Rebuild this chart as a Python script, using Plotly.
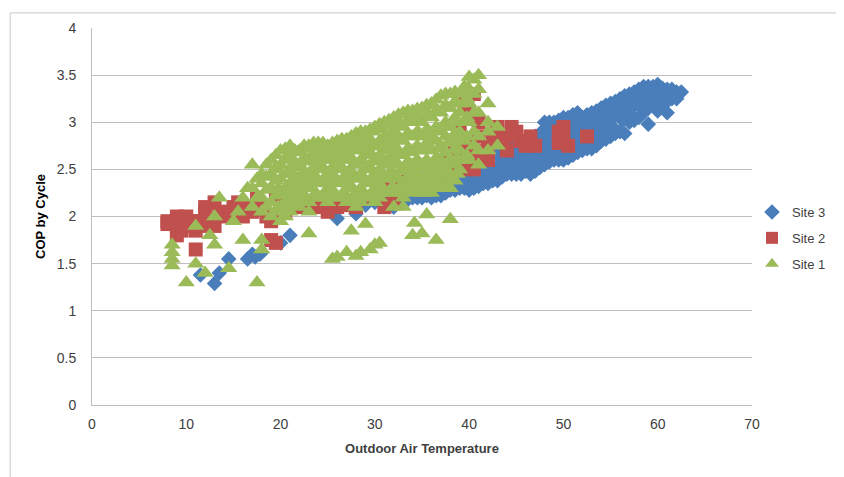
import plotly.graph_objects as go

# Site 3 (blue diamonds)
site3_x = [11.5, 13, 13.5, 14.5, 16.5, 17, 17.3, 17.8, 18, 20, 21, 26, 28, 29, 30, 30.5,
           31, 31, 32, 32, 32, 33, 33, 33, 34, 34, 34, 35, 35, 35, 36, 36, 36, 37, 37, 37,
           38, 38, 38, 39, 39, 39, 40, 40, 40, 41, 41, 41, 42, 42, 42, 43, 43, 43,
           44, 44, 44, 45, 45, 45, 46, 46, 46, 47, 47, 47, 48, 48, 48, 48, 49, 49, 49, 49,
           50, 50, 50, 50, 51, 51, 51, 51, 52, 52, 52, 53, 53, 53, 54, 54, 54, 55, 55, 55,
           56, 56, 56, 57, 57, 57, 58, 58, 58, 59, 59, 59, 59, 60, 60, 60, 61, 61, 61,
           62, 62, 62.5,
           31.5, 31.5, 32.5, 32.5, 32.5, 33.5, 33.5, 33.5, 34.5, 34.5, 34.5, 35.5, 35.5, 35.5,
           36.5, 36.5, 36.5, 37.5, 37.5, 37.5, 38.5, 38.5, 38.5, 39.5, 39.5, 39.5,
           40.5, 40.5, 40.5, 41.5, 41.5, 41.5, 42.5, 42.5, 42.5, 43.5, 43.5, 43.5,
           44.5, 44.5, 44.5, 45.5, 45.5, 45.5, 46.5, 46.5, 46.5, 47.5, 47.5, 47.5,
           48.5, 48.5, 48.5, 48.5, 49.5, 49.5, 49.5, 49.5, 50.5, 50.5, 50.5, 50.5,
           51.5, 51.5, 51.5, 51.5, 52.5, 52.5, 52.5, 53.5, 53.5, 53.5, 54.5, 54.5, 54.5,
           55.5, 55.5, 55.5, 56.5, 56.5, 56.5, 57.5, 57.5, 57.5, 58.5, 58.5, 58.5,
           59.5, 59.5, 59.5, 60.5, 60.5, 60.5, 61.5, 61.5,
           44.25, 44.25, 45.25, 45.25, 46.25, 46.25, 47.25, 47.25, 48.25, 48.25, 48.25,
           49.25, 49.25, 49.25, 50.25, 50.25, 50.25, 51.25, 51.25, 51.25, 52.25, 52.25,
           53.25, 53.25, 54.25, 54.25, 55.25, 55.25, 56.25, 56.25, 57.25, 57.25, 58.25, 58.25,
           59.25, 59.25, 60.25, 60.25, 36.25, 36.25, 38.25, 38.25, 40.25, 40.25, 42.25, 42.25]
site3_y = [1.38, 1.29, 1.4, 1.55, 1.55, 1.6, 1.57, 1.6, 1.62, 1.72, 1.8, 1.98, 2.03, 2.12, 2.15, 2.2,
           2.15, 2.25, 2.1, 2.2, 2.3, 2.15, 2.25, 2.35, 2.2, 2.3, 2.4, 2.2, 2.3, 2.4, 2.2, 2.3, 2.42,
           2.22, 2.32, 2.45, 2.28, 2.38, 2.5, 2.3, 2.4, 2.52, 2.28, 2.4, 2.55, 2.32, 2.45, 2.58,
           2.35, 2.48, 2.62, 2.38, 2.5, 2.65, 2.45, 2.58, 2.72, 2.45, 2.58, 2.75, 2.48, 2.62, 2.8,
           2.48, 2.65, 2.85, 2.55, 2.7, 2.9, 3.0, 2.6, 2.75, 2.92, 3.0, 2.6, 2.78, 2.95, 3.05,
           2.65, 2.82, 3.0, 3.08, 2.7, 2.88, 3.05, 2.72, 2.95, 3.1, 2.8, 3.0, 3.15, 2.85, 3.05, 3.2,
           2.9, 3.1, 3.25, 3.0, 3.15, 3.3, 3.05, 3.2, 3.35, 2.98, 3.15, 3.28, 3.38, 3.12, 3.25, 3.4,
           3.1, 3.22, 3.35, 3.25, 3.32, 3.32,
           2.18, 2.28, 2.15, 2.25, 2.33, 2.18, 2.28, 2.38, 2.2, 2.32, 2.42, 2.22, 2.33, 2.43,
           2.22, 2.35, 2.45, 2.25, 2.35, 2.48, 2.28, 2.4, 2.52, 2.3, 2.42, 2.55,
           2.3, 2.42, 2.56, 2.35, 2.48, 2.6, 2.38, 2.5, 2.65, 2.42, 2.55, 2.7,
           2.45, 2.6, 2.75, 2.45, 2.6, 2.78, 2.45, 2.62, 2.82, 2.52, 2.68, 2.88,
           2.58, 2.72, 2.9, 3.0, 2.6, 2.78, 2.95, 3.02, 2.62, 2.8, 2.98, 3.05,
           2.68, 2.85, 3.02, 3.1, 2.72, 2.9, 3.08, 2.75, 2.98, 3.12, 2.82, 3.02, 3.18,
           2.88, 3.08, 3.22, 2.88, 3.12, 3.28, 3.02, 3.18, 3.32, 3.1, 3.25, 3.38,
           3.18, 3.3, 3.38, 3.2, 3.3, 3.36, 3.25, 3.35,
           2.52, 2.66, 2.52, 2.68, 2.55, 2.72, 2.58, 2.76, 2.62, 2.8, 2.95,
           2.68, 2.85, 2.98, 2.7, 2.88, 3.02, 2.75, 2.92, 3.05, 2.8, 2.98,
           2.85, 3.04, 2.9, 3.08, 2.95, 3.14, 3.02, 3.2, 3.08, 3.25, 3.15, 3.3,
           3.22, 3.33, 3.18, 3.34, 2.27, 2.38, 2.33, 2.45, 2.35, 2.48, 2.43, 2.56]

# Site 2 (red squares)
site2_x = [8, 9, 9, 9.5, 10, 10.5, 11, 11, 11.5, 12, 12.5, 13, 13.5, 14, 15, 15.5, 16, 17, 17.5,
           18, 18.5, 19, 19, 19.5, 19.5, 20.5, 22, 23, 24, 25, 26, 27, 28, 29, 30.5, 31, 31.5,
           32, 32.5, 33, 34, 36.5, 37.5, 38, 38.5, 39, 39, 39.5, 39.5, 40, 40, 40, 40.5, 40.5,
           41, 41, 41.5, 42, 43, 43.5, 44, 45, 45.5, 46, 47, 49.5, 50, 50.5, 52.5,
           8, 9, 10, 12, 12, 14.5, 16.5, 13, 38.5, 39, 40.5, 41, 42, 42.5, 43, 44, 44.5,
           46.5, 49.5, 50]
site2_y = [1.95, 1.9, 2.0, 1.85, 2.0, 1.95, 1.85, 1.65, 1.95, 2.1, 1.95, 2.15, 2.05, 2.0, 2.1, 2.15,
           2.0, 2.05, 2.2, 2.1, 2.0, 1.95, 1.75, 2.2, 1.72, 2.05, 2.1, 2.15, 2.1, 2.05, 2.1, 2.12,
           2.1, 2.2, 2.25, 2.1, 2.3, 2.18, 2.35, 2.4, 2.45, 2.45, 2.4, 2.6, 2.75, 2.9, 2.5, 2.65,
           3.2, 2.8, 2.55, 3.1, 2.7, 3.3, 2.85, 3.0, 2.6, 2.75, 2.9, 2.8, 2.85, 2.9, 2.8, 2.75,
           2.75, 2.9, 2.8, 2.75, 2.85,
           1.92, 1.8, 1.9, 1.9, 2.05, 2.05, 2.1, 1.9, 2.55, 2.7, 2.5, 2.65, 2.6, 2.85, 2.95,
           2.7, 2.95, 2.85, 2.78, 2.95]

# Site 1 (green triangles)
site1_x = [8.5, 8.5, 8.5, 8.5, 10, 11, 11, 12, 12.5, 13, 13.5, 13, 14.5, 15, 16, 17.5, 18, 18,
           16.5, 16, 15.5, 23, 23, 25.5, 26, 27, 27.5, 28, 28.5, 29, 29.5, 30, 30.5, 33, 34,
           34.2, 35, 35.5, 36.5, 38,
           17, 17, 17, 18, 18, 18, 18, 19, 19, 19, 19, 19, 20, 20, 20, 20, 20, 20,
           21, 21, 21, 21, 21, 21, 22, 22, 22, 22, 22, 23, 23, 23, 23, 23,
           24, 24, 24, 24, 24, 25, 25, 25, 25, 25, 26, 26, 26, 26, 26,
           27, 27, 27, 27, 27, 27, 28, 28, 28, 28, 28, 28, 29, 29, 29, 29, 29, 29,
           30, 30, 30, 30, 30, 30, 31, 31, 31, 31, 31, 31, 32, 32, 32, 32, 32, 32, 32,
           33, 33, 33, 33, 33, 33, 33, 34, 34, 34, 34, 34, 34, 34, 35, 35, 35, 35, 35, 35, 35,
           36, 36, 36, 36, 36, 36, 36, 37, 37, 37, 37, 37, 37, 37, 38, 38, 38, 38, 38, 38, 38,
           39, 39, 39, 39, 39, 40, 40, 40, 40, 40, 41, 41, 41, 41, 41, 41, 42, 42, 42, 42, 43, 43,
           17.5, 17.5, 18.5, 18.5, 18.5, 18.5, 19.5, 19.5, 19.5, 19.5, 19.5,
           20.5, 20.5, 20.5, 20.5, 20.5, 20.5, 21.5, 21.5, 21.5, 21.5, 21.5,
           22.5, 22.5, 22.5, 22.5, 22.5, 23.5, 23.5, 23.5, 23.5, 23.5,
           24.5, 24.5, 24.5, 24.5, 24.5, 25.5, 25.5, 25.5, 25.5, 25.5,
           26.5, 26.5, 26.5, 26.5, 26.5, 27.5, 27.5, 27.5, 27.5, 27.5, 27.5,
           28.5, 28.5, 28.5, 28.5, 28.5, 28.5, 29.5, 29.5, 29.5, 29.5, 29.5, 29.5,
           30.5, 30.5, 30.5, 30.5, 30.5, 30.5, 31.5, 31.5, 31.5, 31.5, 31.5, 31.5,
           32.5, 32.5, 32.5, 32.5, 32.5, 32.5, 32.5, 33.5, 33.5, 33.5, 33.5, 33.5, 33.5, 33.5,
           34.5, 34.5, 34.5, 34.5, 34.5, 34.5, 34.5, 35.5, 35.5, 35.5, 35.5, 35.5, 35.5, 35.5,
           36.5, 36.5, 36.5, 36.5, 36.5, 36.5, 36.5, 37.5, 37.5, 37.5, 37.5, 37.5, 37.5, 37.5,
           38.5, 38.5, 38.5, 38.5, 38.5, 38.5, 38.5, 39.5, 39.5, 39.5, 39.5, 39.5,
           40.5, 40.5, 40.5, 40.5, 40.5,
           19.75, 19.75, 19.75, 20.75, 20.75, 20.75, 20.75, 21.75, 21.75, 21.75, 21.75,
           22.75, 22.75, 22.75, 22.75, 23.75, 23.75, 23.75, 23.75, 24.75, 24.75, 24.75, 24.75,
           25.75, 25.75, 25.75, 25.75, 26.75, 26.75, 26.75, 26.75,
           27.75, 27.75, 27.75, 27.75, 27.75, 28.75, 28.75, 28.75, 28.75, 28.75,
           29.75, 29.75, 29.75, 29.75, 29.75, 30.75, 30.75, 30.75, 30.75, 30.75,
           31.75, 31.75, 31.75, 31.75, 31.75, 32.75, 32.75, 32.75, 32.75, 32.75,
           33.75, 33.75, 33.75, 33.75, 33.75, 34.75, 34.75, 34.75, 34.75, 34.75,
           35.75, 35.75, 35.75, 35.75, 35.75, 36.75, 36.75, 36.75, 36.75, 36.75,
           37.75, 37.75, 37.75, 37.75, 37.75, 38.75, 38.75, 38.75, 38.75, 38.75,
           39.75, 39.75, 39.75, 39.75]
site1_y = [1.7, 1.62, 1.55, 1.48, 1.3, 1.5, 1.9, 1.4, 1.8, 1.7, 2.2, 2.0, 1.45, 1.95, 1.75, 1.3,
           1.65, 1.75, 2.3, 2.2, 2.05, 1.82, 2.05, 1.55, 1.57, 1.62, 1.85, 1.58, 1.62, 1.92, 1.65,
           1.7, 1.72, 2.1, 1.8, 1.93, 1.82, 2.02, 1.75, 1.97,
           2.1, 2.3, 2.55, 2.05, 2.2, 2.35, 2.45, 2.0, 2.15, 2.3, 2.45, 2.6, 1.95, 2.1, 2.25, 2.4,
           2.55, 2.7, 2.05, 2.2, 2.35, 2.5, 2.62, 2.75, 2.1, 2.25, 2.4, 2.55, 2.7, 2.15, 2.3, 2.45,
           2.6, 2.75, 2.2, 2.35, 2.5, 2.65, 2.78, 2.15, 2.3, 2.45, 2.6, 2.75, 2.2, 2.35, 2.5, 2.65,
           2.8, 2.15, 2.3, 2.45, 2.6, 2.72, 2.82, 2.1, 2.25, 2.4, 2.55, 2.7, 2.88, 2.2, 2.35, 2.5,
           2.65, 2.78, 2.9, 2.15, 2.3, 2.45, 2.6, 2.75, 2.95, 2.25, 2.4, 2.55, 2.7, 2.85, 3.0,
           2.1, 2.3, 2.45, 2.6, 2.75, 2.9, 3.05, 2.2, 2.35, 2.5, 2.65, 2.8, 2.95, 3.1,
           2.25, 2.4, 2.55, 2.7, 2.85, 3.0, 3.12, 2.25, 2.4, 2.55, 2.7, 2.85, 3.0, 3.15,
           2.25, 2.4, 2.55, 2.7, 2.85, 3.05, 3.2, 2.3, 2.45, 2.6, 2.75, 2.9, 3.1, 3.28,
           2.3, 2.45, 2.6, 2.8, 2.95, 3.15, 3.3, 2.5, 2.7, 2.9, 3.1, 3.3, 2.6, 3.0, 3.2, 3.35, 3.48,
           2.55, 2.7, 2.85, 3.1, 3.35, 3.5, 2.7, 2.9, 3.0, 3.2, 2.75, 2.95,
           2.2, 2.4, 2.1, 2.28, 2.42, 2.55, 2.05, 2.22, 2.38, 2.52, 2.65,
           2.0, 2.15, 2.3, 2.45, 2.6, 2.72, 2.12, 2.28, 2.42, 2.58, 2.7,
           2.18, 2.32, 2.48, 2.62, 2.75, 2.22, 2.38, 2.52, 2.68, 2.78,
           2.2, 2.38, 2.52, 2.68, 2.78, 2.22, 2.38, 2.52, 2.68, 2.78,
           2.2, 2.38, 2.52, 2.68, 2.82, 2.18, 2.32, 2.48, 2.62, 2.78, 2.85,
           2.15, 2.3, 2.45, 2.6, 2.75, 2.9, 2.22, 2.38, 2.52, 2.68, 2.82, 2.92,
           2.2, 2.35, 2.5, 2.65, 2.8, 2.98, 2.25, 2.4, 2.55, 2.7, 2.85, 3.02,
           2.25, 2.4, 2.55, 2.7, 2.85, 3.0, 3.08, 2.28, 2.42, 2.58, 2.72, 2.88, 3.02, 3.12,
           2.3, 2.45, 2.6, 2.75, 2.9, 3.05, 3.14, 2.3, 2.45, 2.6, 2.78, 2.92, 3.08, 3.18,
           2.3, 2.48, 2.62, 2.8, 2.95, 3.12, 3.24, 2.35, 2.5, 2.68, 2.85, 3.0, 3.18, 3.3,
           2.38, 2.55, 2.72, 2.88, 3.05, 3.22, 3.32, 2.6, 2.8, 3.0, 3.2, 3.38,
           2.75, 2.9, 3.1, 3.3, 3.45,
           2.1, 2.3, 2.5, 2.08, 2.25, 2.45, 2.65, 2.18, 2.35, 2.52, 2.68,
           2.2, 2.4, 2.58, 2.72, 2.25, 2.42, 2.6, 2.72, 2.25, 2.42, 2.6, 2.72,
           2.25, 2.42, 2.6, 2.74, 2.25, 2.42, 2.6, 2.76,
           2.22, 2.4, 2.55, 2.7, 2.82, 2.25, 2.42, 2.58, 2.72, 2.85,
           2.25, 2.42, 2.58, 2.74, 2.9, 2.28, 2.45, 2.62, 2.78, 2.92,
           2.3, 2.48, 2.65, 2.8, 2.96, 2.32, 2.48, 2.65, 2.82, 2.98,
           2.35, 2.5, 2.68, 2.85, 3.02, 2.35, 2.52, 2.7, 2.88, 3.05,
           2.35, 2.52, 2.72, 2.9, 3.08, 2.38, 2.55, 2.72, 2.92, 3.12,
           2.4, 2.58, 2.78, 2.95, 3.15, 2.45, 2.62, 2.82, 3.0, 3.2,
           2.65, 2.85, 3.05, 3.25]

x_ticks = [0, 10, 20, 30, 40, 50, 60, 70]
y_ticks = [0, 0.5, 1, 1.5, 2, 2.5, 3, 3.5, 4]
y_tick_labels = ["0", "0.5", "1", "1.5", "2", "2.5", "3", "3.5", "4"]

font_family = "Liberation Sans Narrow, Liberation Sans, Arial"

fig = go.Figure()
fig.add_trace(go.Scatter(
    x=site3_x, y=site3_y, mode="markers", name="Site 3", legendgroup="s3",
    marker=dict(symbol="diamond", size=12, color="#4A7EBB"),
))
fig.add_trace(go.Scatter(
    x=site2_x, y=site2_y, mode="markers", name="Site 2", legendgroup="s2",
    marker=dict(symbol="square", size=14, color="#C0504D"),
))
fig.add_trace(go.Scatter(
    x=site1_x, y=site1_y, mode="markers", name="Site 1", legendgroup="s1",
    marker=dict(symbol="triangle-up", size=15, color="#9BBB59"),
))

# page body has an 8px margin, so the figure is shifted by 8px
fig.update_layout(
    width=836,
    height=469,
    margin=dict(l=84, r=92, t=14, b=72),
    paper_bgcolor="white",
    plot_bgcolor="white",
    font=dict(family=font_family, size=14, color="#404040"),
    legend=dict(
        x=1.0, y=0.443, xanchor="left", yanchor="middle",
        traceorder="grouped", tracegroupgap=6,
        font=dict(size=13, color="#404040"),
        itemsizing="constant",
    ),
    xaxis=dict(
        range=[0, 70], tickvals=x_ticks, showgrid=False, zeroline=False,
        showline=True, linecolor="#bfbfbf", linewidth=1, ticks="", ticklabelstandoff=6,
        title=dict(text="<b>Outdoor Air Temperature</b>", font=dict(size=13, color="#404040"), standoff=13),
    ),
    yaxis=dict(
        range=[0, 4], tickvals=y_ticks, ticktext=y_tick_labels, showgrid=True,
        gridcolor="#bfbfbf", gridwidth=1, zeroline=False,
        showline=True, linecolor="#bfbfbf", linewidth=1, ticks="", ticklabelstandoff=12,
        title=dict(text="<b>COP by Cycle</b>", font=dict(size=13, color="#000000"), standoff=8),
    ),
    shapes=[
        dict(type="line", xref="paper", yref="paper", x0=-0.124, x1=1.2, y0=1.04, y1=1.04,
             line=dict(color="#c8c8c8", width=1)),
        dict(type="line", xref="paper", yref="paper", x0=-0.124, x1=-0.124, y0=-0.2, y1=1.04,
             line=dict(color="#c8c8c8", width=1)),
    ],
)

fig.write_html("out.html")
